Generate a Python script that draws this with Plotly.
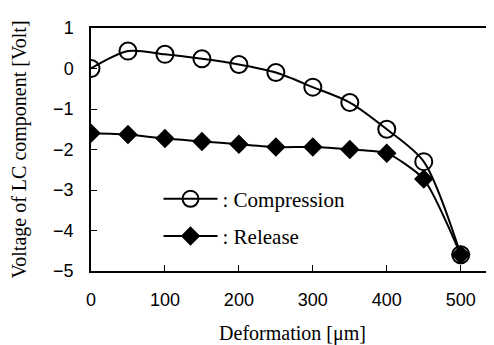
import plotly.graph_objects as go

deformation = [0, 50, 100, 150, 200, 250, 300, 350, 400, 450, 500]
compression = [0.0, 0.43, 0.35, 0.24, 0.10, -0.10, -0.46, -0.84, -1.50, -2.30, -4.60]
release = [-1.60, -1.63, -1.73, -1.80, -1.87, -1.94, -1.94, -2.00, -2.09, -2.73, -4.60]

x_ticks = [0, 100, 200, 300, 400, 500]
y_ticks = [1, 0, -1, -2, -3, -4, -5]

serif = "Liberation Serif, Times New Roman, serif"
sans = "Liberation Sans, Arial, sans-serif"

fig = go.Figure()
fig.add_trace(go.Scatter(
    x=deformation, y=compression, name=": Compression", legendgroup="c",
    mode="lines+markers", line=dict(color="black", width=2, shape="spline", smoothing=0.8),
    marker=dict(symbol="circle-open", size=17, color="black", line=dict(width=2, color="black")),
))
fig.add_trace(go.Scatter(
    x=deformation, y=release, name=": Release", legendgroup="r",
    mode="lines+markers", line=dict(color="black", width=2, shape="spline", smoothing=0.6),
    marker=dict(symbol="diamond", size=15, color="black"),
))

# page body has an 8px default margin, so the figure is sized/offset to compensate
fig.update_layout(
    width=486, height=337,
    margin=dict(l=83, r=0, t=20, b=74),
    paper_bgcolor="white", plot_bgcolor="white",
    showlegend=True,
    legend=dict(x=0.1675, y=0.38, xanchor="left", yanchor="top",
                font=dict(family=serif, size=21, color="black"),
                bgcolor="rgba(0,0,0,0)", itemwidth=54, tracegroupgap=7),
    xaxis=dict(range=[0, 545], tickvals=x_ticks, ticks="inside", ticklen=6,
               tickcolor="black", showline=True, linecolor="black", linewidth=1.5,
               mirror=True, showgrid=False, zeroline=False, automargin=False,
               tickfont=dict(family=sans, size=18, color="black"), ticklabelstandoff=12,
               title=dict(text="Deformation [μm]", font=dict(family=serif, size=20, color="black"), standoff=24)),
    yaxis=dict(range=[-5, 1], tickvals=y_ticks, ticks="inside", ticklen=6,
               tickcolor="black", showline=True, linecolor="black", linewidth=1.5,
               showgrid=False, zeroline=False, automargin=False,
               tickfont=dict(family=sans, size=18, color="black"), ticklabelstandoff=12,
               title=dict(text="Voltage of LC component [Volt]", font=dict(family=serif, size=20, color="black"), standoff=21)),
)

fig.write_html("out.html")
